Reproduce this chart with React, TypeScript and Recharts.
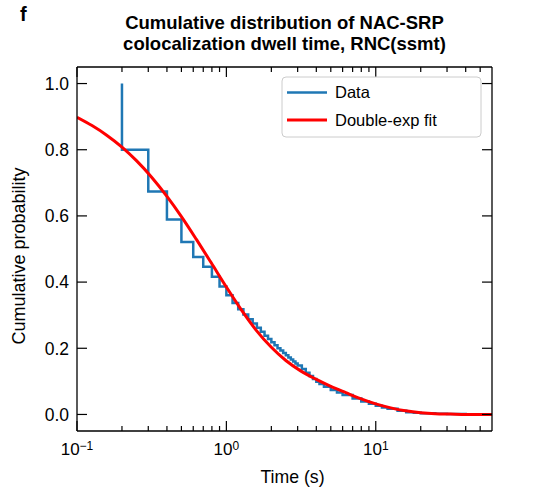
import React from 'react';
import { LineChart, Line, XAxis, YAxis } from 'recharts';

// Empirical survival (step) data: time (s) and cumulative probability
const dataTimes = [0.2, 0.2, 0.3, 0.4, 0.5, 0.6, 0.7, 0.8, 0.9, 1.0, 1.1, 1.2, 1.3, 1.4, 1.5, 1.6, 1.7, 1.8, 1.9, 2.0, 2.1, 2.2, 2.3, 2.4, 2.5, 2.6, 2.7, 2.8, 2.9, 3.0, 3.2, 3.4, 3.6, 3.8, 4.0, 4.2, 4.5, 5.0, 5.5, 6.0, 7.0, 8.0, 9.0, 10, 11, 12, 14, 16, 18, 20, 25, 30, 40, 55];
const dataValues = [1.0, 0.8, 0.674, 0.589, 0.521, 0.476, 0.446, 0.416, 0.387, 0.36, 0.337, 0.318, 0.302, 0.288, 0.275, 0.262, 0.25, 0.238, 0.228, 0.218, 0.209, 0.2, 0.193, 0.186, 0.179, 0.172, 0.166, 0.16, 0.154, 0.148, 0.137, 0.126, 0.116, 0.107, 0.099, 0.092, 0.084, 0.074, 0.066, 0.059, 0.048, 0.039, 0.032, 0.026, 0.021, 0.017, 0.011, 0.007, 0.005, 0.004, 0.002, 0.001, 0.0005, 0.0];

// Double-exponential fit curve
const fitTimes = [0.1, 0.126, 0.158, 0.2, 0.25, 0.316, 0.4, 0.5, 0.63, 0.79, 1.0, 1.26, 1.58, 2.0, 2.5, 3.16, 4.0, 5.0, 6.3, 7.9, 10, 12.6, 15.8, 20, 25, 31.6, 40, 50, 60];
const fitValues = [0.898, 0.873, 0.844, 0.808, 0.767, 0.717, 0.659, 0.598, 0.529, 0.459, 0.385, 0.316, 0.255, 0.203, 0.163, 0.131, 0.106, 0.085, 0.066, 0.048, 0.032, 0.02, 0.011, 0.005, 0.002, 0.001, 0.0, 0.0, 0.0];

const xTicks = [0.1, 0.2, 0.3, 0.4, 0.5, 0.6, 0.7, 0.8, 0.9, 1, 2, 3, 4, 5, 6, 7, 8, 9, 10, 20, 30, 40, 50];
const xMajor = [0.1, 1, 10];
const xMajorExp = ['\u22121', '0', '1'];
const yTicks = [0, 0.2, 0.4, 0.6, 0.8, 1.0];

const seriesNames = ['Data', 'Double-exp fit'];
const titleLines = ['Cumulative distribution of NAC-SRP', 'colocalization dwell time, RNC(ssmt)'];
const panelLetter = 'f';
const xLabel = 'Time (s)';
const yLabel = 'Cumulative probability';

const BLUE = '#1f77b4';
const RED = '#ff0000';
const FONT = '"Liberation Sans", Arial, Helvetica, sans-serif';

const stepData = dataTimes.map((t, i) => ({ t, y: dataValues[i] }));
const fitData = fitTimes.map((t, i) => ({ t, y: fitValues[i] }));

const majorIndex = (v: number) => xMajor.findIndex((m) => Math.abs(m - v) < 1e-9);

const BottomTick = (props: any) => {
  const { x, y, payload } = props;
  const mi = majorIndex(payload.value);
  const len = mi >= 0 ? 10 : 5;
  return (
    <g>
      <line x1={x} y1={y} x2={x} y2={y - len} stroke="#000" strokeWidth={1.2} />
      {mi >= 0 && (
        <text x={x} y={y + 24} textAnchor="middle" fontSize={17} fill="#000" fontFamily={FONT}>
          <tspan>10</tspan>
          <tspan dy={-5.5} fontSize={12}>{xMajorExp[mi]}</tspan>
        </text>
      )}
    </g>
  );
};

const TopTick = (props: any) => {
  const { x, y, payload } = props;
  const mi = majorIndex(payload.value);
  const len = mi >= 0 ? 10 : 5;
  return <line x1={x} y1={y} x2={x} y2={y + len} stroke="#000" strokeWidth={1.2} />;
};

const LeftTick = (props: any) => {
  const { x, y, payload } = props;
  return (
    <g>
      <line x1={x} y1={y} x2={x + 10} y2={y} stroke="#000" strokeWidth={1.2} />
      <text x={x - 8} y={y} dy="0.36em" textAnchor="end" fontSize={17.5} fill="#000" fontFamily={FONT}>
        {Number(payload.value).toFixed(1)}
      </text>
    </g>
  );
};

const RightTick = (props: any) => {
  const { x, y } = props;
  return <line x1={x} y1={y} x2={x - 10} y2={y} stroke="#000" strokeWidth={1.2} />;
};

export default function App() {
  return (
    <div style={{ position: 'absolute', left: 0, top: 0, width: 548, height: 496, background: '#fff', fontFamily: FONT }}>
      <LineChart width={548} height={496} margin={{ top: 57, right: 46, bottom: 25, left: 17 }}>
        <XAxis
          xAxisId="bottom"
          orientation="bottom"
          type="number"
          dataKey="t"
          scale="log"
          domain={[0.1, 60]}
          allowDataOverflow
          ticks={xTicks}
          interval={0}
          height={40}
          tickSize={0}
          tickMargin={0}
          tickLine={false}
          axisLine={{ stroke: '#000', strokeWidth: 1.3 }}
          tick={BottomTick}
        />
        <XAxis
          xAxisId="top"
          orientation="top"
          type="number"
          dataKey="t"
          scale="log"
          domain={[0.1, 60]}
          allowDataOverflow
          ticks={xTicks}
          interval={0}
          height={10}
          tickSize={0}
          tickMargin={0}
          tickLine={false}
          axisLine={{ stroke: '#000', strokeWidth: 1.3 }}
          tick={TopTick}
        />
        <YAxis
          yAxisId="left"
          orientation="left"
          type="number"
          domain={[-0.05, 1.05]}
          allowDataOverflow
          ticks={yTicks}
          interval={0}
          width={60}
          tickSize={0}
          tickMargin={0}
          tickLine={false}
          axisLine={{ stroke: '#000', strokeWidth: 1.3 }}
          tick={LeftTick}
        />
        <YAxis
          yAxisId="right"
          orientation="right"
          type="number"
          domain={[-0.05, 1.05]}
          allowDataOverflow
          ticks={yTicks}
          interval={0}
          width={10}
          tickSize={0}
          tickMargin={0}
          tickLine={false}
          axisLine={{ stroke: '#000', strokeWidth: 1.3 }}
          tick={RightTick}
        />
        <Line
          xAxisId="bottom"
          yAxisId="left"
          data={stepData}
          dataKey="y"
          name={seriesNames[0]}
          type="stepAfter"
          stroke={BLUE}
          strokeWidth={2.5}
          dot={false}
          activeDot={false}
          isAnimationActive={false}
        />
        <Line
          xAxisId="top"
          yAxisId="right"
          data={fitData}
          dataKey="y"
          name={seriesNames[1]}
          type="monotone"
          stroke={RED}
          strokeWidth={3}
          dot={false}
          activeDot={false}
          isAnimationActive={false}
        />
      </LineChart>
      <svg
        width={548}
        height={496}
        style={{ position: 'absolute', left: 0, top: 0, pointerEvents: 'none' }}
      >
        <text x={20} y={21} fontSize={20} fontWeight="bold" fontFamily={FONT} fill="#000">{panelLetter}</text>
        <text x={284.5} y={29} textAnchor="middle" fontSize={18.5} fontWeight="bold" fontFamily={FONT} fill="#000">{titleLines[0]}</text>
        <text x={284.5} y={50} textAnchor="middle" fontSize={18.5} fontWeight="bold" fontFamily={FONT} fill="#000">{titleLines[1]}</text>
        <text x={292.5} y={482.5} textAnchor="middle" fontSize={17.7} fontFamily={FONT} fill="#000">{xLabel}</text>
        <text
          x={0}
          y={0}
          transform="translate(25 256) rotate(-90)"
          textAnchor="middle"
          fontSize={18}
          fontFamily={FONT}
          fill="#000"
        >
          {yLabel}
        </text>
        <rect x={282} y={77} width={199} height={60} rx={4} ry={4} fill="#fff" fillOpacity={0.85} stroke="#cccccc" strokeWidth={1} />
        <line x1={287} y1={92.5} x2={327} y2={92.5} stroke={BLUE} strokeWidth={2.5} />
        <text x={335} y={92.5} dy="0.36em" fontSize={16.5} fontFamily={FONT} fill="#000">{seriesNames[0]}</text>
        <line x1={287} y1={120} x2={327} y2={120} stroke={RED} strokeWidth={3} />
        <text x={335} y={120} dy="0.36em" fontSize={16.5} fontFamily={FONT} fill="#000">{seriesNames[1]}</text>
      </svg>
    </div>
  );
}
